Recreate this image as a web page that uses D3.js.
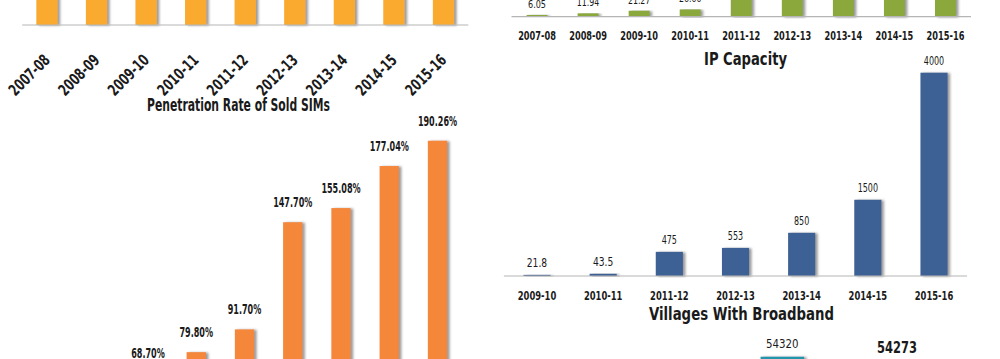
<!DOCTYPE html>
<html>
<head>
<meta charset="utf-8">
<script src="https://cdn.jsdelivr.net/npm/d3@7/dist/d3.min.js"></script>
<style>
  html, body { margin: 0; padding: 0; background: #fff; overflow: hidden; }
  svg { display: block; }
  text { font-family: "Liberation Sans Narrow", "DejaVu Sans Condensed", "Roboto", sans-serif; fill: #1a1a1a; }
</style>
</head>
<body>
<script>
// ---------- data ----------
const years = ["2007-08","2008-09","2009-10","2010-11","2011-12","2012-13","2013-14","2014-15","2015-16"];

// top-left chart (bars cut off by the top edge of the picture)
const subscriberYears = years;
const subscriberValues = [60, 70, 80, 90, 100, 110, 120, 130, 140];

// Penetration Rate of Sold SIMs (%), first two bars fall below the picture
const penetrationYears = ["2009-10","2010-11","2011-12","2012-13","2013-14","2014-15","2015-16"];
const penetrationValues = [68.70, 79.80, 91.70, 147.70, 155.08, 177.04, 190.26];
const penetrationLabels = ["68.70%","79.80%","91.70%","147.70%","155.08%","177.04%","190.26%"];

// top-right chart (green)
const bandwidthYears = years;
const bandwidthValues = [6.05, 11.94, 21.27, 26.0, 80, 120, 160, 200, 250];
const bandwidthLabels = ["6.05","11.94","21.27","26.00","","","","",""];

// IP Capacity
const ipYears = ["2009-10","2010-11","2011-12","2012-13","2013-14","2014-15","2015-16"];
const ipValues = [21.8, 43.5, 475, 553, 850, 1500, 4000];
const ipLabels = ["21.8","43.5","475","553","850","1500","4000"];

// Villages With Broadband
const villageCats = ["A","B"];
const villageValues = [54320, 54273];
const villageLabels = ["54320","54273"];

// ---------- drawing ----------
const W = 1000, H = 359;
const svg = d3.select("body").append("svg").attr("width", W).attr("height", H);

const defs = svg.append("defs");
const f = defs.append("filter").attr("id","shadow").attr("x","-20%").attr("y","-5%").attr("width","160%").attr("height","110%");
f.append("feDropShadow").attr("dx",2.5).attr("dy",0.5).attr("stdDeviation",1.3)
  .attr("flood-color","#7a7a7a").attr("flood-opacity",0.75);

// condense text to the narrow look of the original
function fit(sel, perChar) {
  sel.attr("textLength", function(d, i) {
      const t = d3.select(this).text();
      return typeof perChar === "function" ? perChar(t, i) : t.length * perChar;
    })
    .attr("lengthAdjust", "spacingAndGlyphs");
}

function bars(g, cats, vals, x, y, color) {
  g.selectAll("rect").data(vals).join("rect")
    .attr("x", (d,i) => x(cats[i]))
    .attr("width", x.bandwidth())
    .attr("y", d => y(d))
    .attr("height", d => Math.max(0, y(0) - y(d)))
    .attr("fill", color)
    .attr("filter","url(#shadow)");
}
function axisLine(g, x, yPos) {
  const r = x.range();
  g.append("line").attr("x1", r[0]).attr("x2", r[1]).attr("y1", yPos).attr("y2", yPos)
    .attr("stroke","#b5b5b5").attr("stroke-width",1.2);
}

// --- top-left yellow ---
{
  const x = d3.scaleBand().domain(subscriberYears).range([22.2, 468.3]).paddingInner(0.57).paddingOuter(0.285);
  const y = d3.scaleLinear().domain([0, 100]).range([25, -400]);
  const g = svg.append("g");
  bars(g, subscriberYears, subscriberValues, x, y, "#FAAA2E");
  axisLine(g, x, y(0));
  g.selectAll("text.xl").data(subscriberYears).join("text").attr("class","xl")
    .attr("transform", d => `translate(${x(d) + x.bandwidth()/2 + 4},${61}) rotate(-45)`)
    .attr("text-anchor","end").attr("font-size",16).attr("font-weight","bold")
    .text(d => d)
    .call(fit, 7.2);
}

svg.append("text").attr("x", 238.5).attr("y", 111).attr("text-anchor","middle")
  .attr("font-size",18).attr("font-weight","bold").attr("textLength",183).attr("lengthAdjust","spacingAndGlyphs")
  .text("Penetration Rate of Sold SIMs");

// --- bottom-left orange ---
{
  const x = d3.scaleBand().domain(years).range([27.4, 461.6]).paddingInner(0.6).paddingOuter(0.3);
  const y = d3.scaleLinear().domain([0, 200]).range([504.9, 122.1]);
  const g = svg.append("g");
  bars(g, penetrationYears, penetrationValues, x, y, "#F5873A");
  g.selectAll("text.vl").data(penetrationValues).join("text").attr("class","vl")
    .attr("x", (d,i) => x(penetrationYears[i]) + x.bandwidth()/2)
    .attr("y", d => y(d) - 15)
    .attr("text-anchor","middle").attr("font-size",14).attr("font-weight","bold")
    .text((d,i) => penetrationLabels[i])
    .call(fit, 5.6);
}

// --- top-right green ---
{
  const x = d3.scaleBand().domain(bandwidthYears).range([511.5, 971]).paddingInner(0.59).paddingOuter(0.295);
  const y = d3.scaleLinear().domain([0, 100]).range([16.7, -11.3]);
  const g = svg.append("g");
  bars(g, bandwidthYears, bandwidthValues, x, y, "#8BA83C");
  axisLine(g, x, y(0));
  g.selectAll("text.vl").data(bandwidthValues).join("text").attr("class","vl")
    .attr("x", (d,i) => x(bandwidthYears[i]) + x.bandwidth()/2)
    .attr("y", d => y(d) - 7)
    .attr("text-anchor","middle").attr("font-size",11)
    .text((d,i) => bandwidthLabels[i])
    .call(fit, 4.5);
  g.selectAll("text.xl").data(bandwidthYears).join("text").attr("class","xl")
    .attr("x", d => x(d) + x.bandwidth()/2)
    .attr("y", 39.5)
    .attr("text-anchor","middle").attr("font-size",12).attr("font-weight","bold")
    .text(d => d)
    .call(fit, 5.4);
}

svg.append("text").attr("x", 745.5).attr("y", 65).attr("text-anchor","middle")
  .attr("font-size",18).attr("font-weight","bold").attr("textLength",83).attr("lengthAdjust","spacingAndGlyphs")
  .text("IP Capacity");

// --- IP Capacity blue ---
{
  const x = d3.scaleBand().domain(ipYears).range([503.9, 967.1]).paddingInner(0.59).paddingOuter(0.295);
  const y = d3.scaleLinear().domain([0, 4000]).range([276, 72.7]);
  const g = svg.append("g");
  bars(g, ipYears, ipValues, x, y, "#3C6095");
  axisLine(g, x, y(0));
  g.selectAll("text.vl").data(ipValues).join("text").attr("class","vl")
    .attr("x", (d,i) => x(ipYears[i]) + x.bandwidth()/2)
    .attr("y", d => y(d) - 8)
    .attr("text-anchor","middle").attr("font-size",11.5)
    .text((d,i) => ipLabels[i])
    .call(fit, 5.1);
  g.selectAll("text.xl").data(ipYears).join("text").attr("class","xl")
    .attr("x", d => x(d) + x.bandwidth()/2)
    .attr("y", 300)
    .attr("text-anchor","middle").attr("font-size",12).attr("font-weight","bold")
    .text(d => d)
    .call(fit, 5.5);
}

svg.append("text").attr("x", 741.5).attr("y", 319.5).attr("text-anchor","middle")
  .attr("font-size",18).attr("font-weight","bold").attr("textLength",185).attr("lengthAdjust","spacingAndGlyphs")
  .text("Villages With Broadband");

// --- Villages teal ---
{
  const x = d3.scaleBand().domain(villageCats).range([725, 954.4]).paddingInner(0.62).paddingOuter(0.31);
  const y = d3.scaleLinear().domain([53800, 54400]).range([412, 348.2]);
  const g = svg.append("g");
  g.selectAll("rect").data(villageValues).join("rect")
    .attr("x", (d,i) => x(villageCats[i]))
    .attr("width", x.bandwidth())
    .attr("y", d => y(d))
    .attr("height", d => y(53800) - y(d))
    .attr("fill", "#2196AA")
    .attr("filter","url(#shadow)");
  g.selectAll("text.vl").data(villageValues).join("text").attr("class","vl")
    .attr("x", (d,i) => x(villageCats[i]) + x.bandwidth()/2)
    .attr("y", d => y(d) - 8.4)
    .attr("text-anchor","middle")
    .attr("font-size", (d,i) => i === 0 ? 13 : 15)
    .attr("font-weight", (d,i) => i === 0 ? "normal" : "bold")
    .text((d,i) => villageLabels[i])
    .call(fit, (t, i) => i === 0 ? 32.5 : 40);
}
</script>
</body>
</html>
